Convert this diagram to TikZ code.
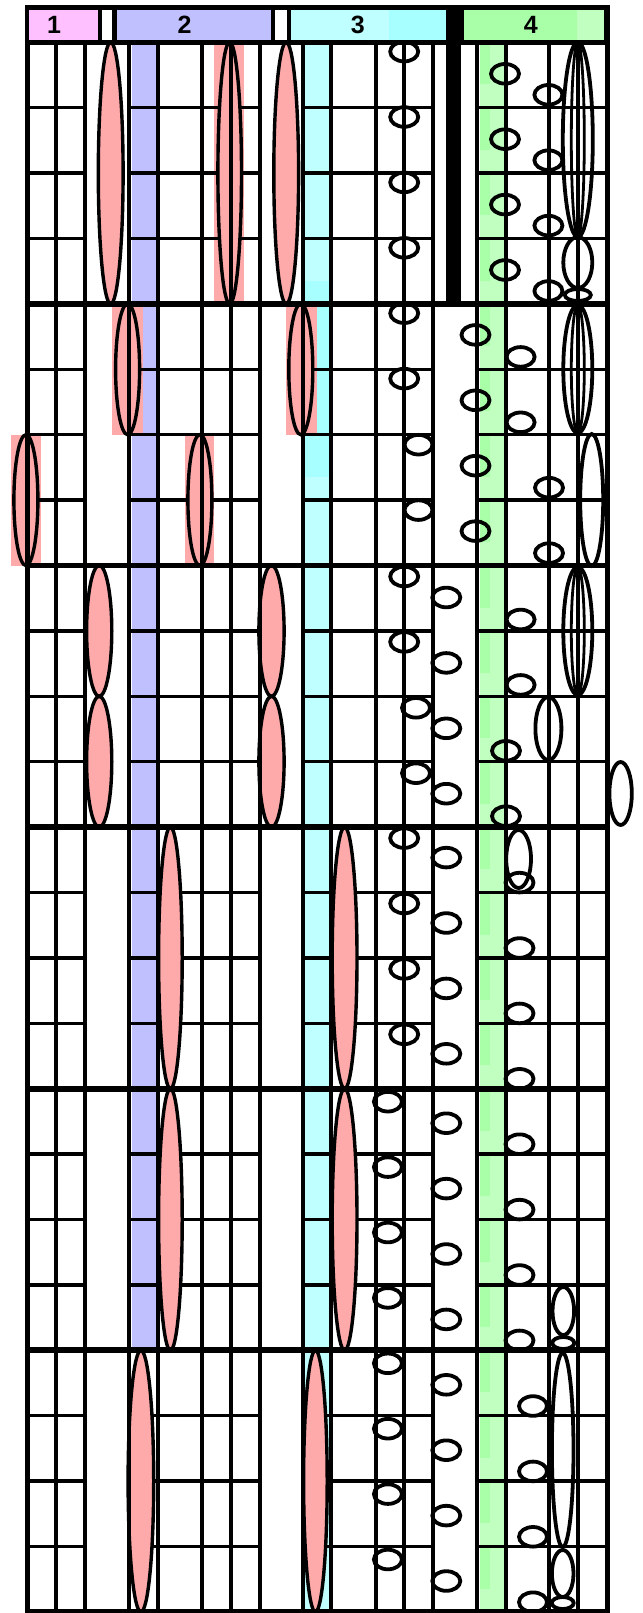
\documentclass[tikz,border=0pt]{standalone}
\usepackage{fontspec}
\setmainfont{Liberation Sans}
\definecolor{hdrone}{HTML}{FFC0FF}
\definecolor{lav}{HTML}{C0C0FF}
\definecolor{cyl}{HTML}{C0FFFF}
\definecolor{cyd}{HTML}{A8FFFF}
\definecolor{grl}{HTML}{C0FFC0}
\definecolor{grd}{HTML}{A8FFA8}
\definecolor{pk}{HTML}{FFAAAA}
\newcommand\PE[4]{\draw[pinkell] (#1,{(#2+#3)/2}) ellipse [x radius=#4, y radius={(#3-#2)/2}];}
\newcommand\WE[4]{\draw[ring] (#1,{(#2+#3)/2}) ellipse [x radius=#4, y radius={(#3-#2)/2}];}
\newcommand\IE[4]{\draw[inring] (#1,{(#2+#3)/2}) ellipse [x radius=#4, y radius={(#3-#2)/2}];}
\newcommand\RR[3]{\draw[ring] (#1,{42.3+(#2-1)*65.4+#3}) ellipse [x radius=14, y radius=9.8];}
\begin{document}
\begin{tikzpicture}[x=1pt,y=-1pt,
  gridv/.style={line width=3.8pt},
  gridh/.style={line width=3.4pt},
  sect/.style={line width=5.8pt},
  bord/.style={line width=4.6pt},
  pinkell/.style={fill=pk,draw=black,line width=3.4pt},
  ring/.style={draw=black,line width=3.8pt},
  inring/.style={draw=black,line width=2.8pt},
  lbl/.style={font=\fontsize{25}{28}\selectfont\bfseries,inner sep=0pt}]
\useasboundingbox (0,0) rectangle (642,1613);
% bands
\fill[lav] (131.5,42.3) rectangle (155.6,1350.3);
\fill[cyl] (305.4,42.3) rectangle (329.1,1611.9);
\fill[cyd] (305.4,280.5) rectangle (329.1,476.7);
\fill[grl] (479.8,42.3) rectangle (503.5,1611.9);
\foreach \r in {1,...,24} {\fill[grd] (479.8,{42.3+(\r-1)*65.4}) rectangle (490,{42.3+(\r-1)*65.4+42});}
% pink rects
\fill[pk] (214.4,42.3) rectangle (244.2,303.9);
\fill[pk] (112.3,303.9) rectangle (142.9,434.7);
\fill[pk] (285.8,303.9) rectangle (316.5,434.7);
\fill[pk] (11,434.7) rectangle (40.8,565.5);
\fill[pk] (185,434.7) rectangle (214.4,565.5);
% black bar
\fill[black] (446.3,5) rectangle (461.4,303.9);
% thin horizontal lines
\foreach \r in {2,3,4,6,7,8,10,11,12,14,15,16,18,19,20,22,23,24} {
  \pgfmathsetmacro\yy{42.3+(\r-1)*65.4}
  \draw[gridh] (27.4,\yy) -- (85.3,\yy) (129,\yy) -- (259.7,\yy) (302.6,\yy) -- (432.8,\yy) (476.9,\yy) -- (607.2,\yy);
}
% pink ellipses
\PE{110.7}{42.3}{303.9}{12.4}
\PE{229.7}{42.3}{303.9}{11.8}
\PE{286.2}{42.3}{303.9}{12.4}
\PE{127.6}{303.9}{434.7}{12}
\PE{300.8}{303.9}{434.7}{12}
\PE{25.9}{434.7}{565.5}{12}
\PE{199.9}{434.7}{565.5}{12}
\PE{99.2}{565.5}{696.3}{12.6}
\PE{99.2}{696.3}{827.1}{12.6}
\PE{271.5}{565.5}{696.3}{12.6}
\PE{271.5}{696.3}{827.1}{12.6}
\PE{170.4}{827.1}{1088.7}{11.8}
\PE{344.6}{827.1}{1088.7}{12.4}
\PE{170.4}{1088.7}{1350.3}{11.8}
\PE{344.6}{1088.7}{1350.3}{12.4}
\PE{140.9}{1350.3}{1611.9}{12.8}
\PE{315.4}{1350.3}{1611.9}{11.8}
% vertical lines
\foreach \x in {56.3,85.3,129,157.6,201.7,230.7,259.7,302.6,331.2,375.7,404.2,432.8,476.9,506.3,549.2,577.8} {\draw[gridv] (\x,42.3) -- (\x,1611.9);}
\draw[bord] (27.4,5) -- (27.4,1614);
\draw[bord] (607.2,5) -- (607.2,1614);
% section lines
\foreach \r in {1,5,9,13,17,21,25} {\draw[sect] (25.1,{42.3+(\r-1)*65.4}) -- (609.5,{42.3+(\r-1)*65.4});}
% rings group 3
\foreach \r in {1,...,6} {\RR{404.2}{\r}{9.3}}
\foreach \r in {7,8} {\RR{418.5}{\r}{10}}
\foreach \r in {9,10,13,14,15,16} {\RR{404.2}{\r}{11}}
\foreach \r in {11,12} {\RR{416}{\r}{11.5}}
\foreach \r in {9,...,12} {\RR{446.3}{\r}{32}}
\foreach \r in {13,...,16} {\RR{446.3}{\r}{30.5}}
\foreach \r in {17,...,24} {\RR{387.9}{\r}{13}}
\foreach \r in {17,...,24} {\RR{446.3}{\r}{34.5}}
% rings group 4
\foreach \r in {1,...,4} {\RR{505}{\r}{31.5}\RR{548.4}{\r}{52.5}}
\foreach \r in {5,...,8} {\RR{475.5}{\r}{31}}
\foreach \r in {5,6} {\RR{520.6}{\r}{53}}
\foreach \r in {7,8} {\RR{549}{\r}{53}}
\foreach \r in {9,10} {\RR{520.6}{\r}{54}}
\foreach \r in {11,12} {\RR{506}{\r}{54.5}}
\foreach \r in {13,...,20} {\RR{519.5}{\r}{55.5}}
\foreach \r in {21,...,24} {\RR{533}{\r}{55.7}}
% tall open ellipses
\WE{577.8}{42.3}{237}{15}
\IE{577.8}{42.3}{237}{6.5}
\WE{577.8}{237}{288}{14.5}
\draw[ring] (577.8,295) ellipse [x radius=13, y radius=6];
\WE{577.8}{305}{433}{14.5}
\IE{577.8}{305}{433}{6.5}
\WE{591.7}{434}{566}{11.5}
\WE{577.8}{567}{695}{14.5}
\IE{577.8}{567}{695}{6.5}
\WE{548.4}{697}{760}{13}
\WE{620.6}{762}{825}{11.2}
\WE{518.6}{830}{888}{12.4}
\WE{563.3}{1287}{1335}{10.8}
\draw[ring] (563.3,1343) ellipse [x radius=11, y radius=6];
\WE{562.7}{1353}{1547}{10.8}
\WE{562.7}{1550}{1597}{10.8}
\draw[ring] (562.7,1603) ellipse [x radius=11, y radius=6];
% header
\fill[black] (25.1,5) rectangle (609.5,44.8);
\fill[hdrone] (29.4,10) rectangle (98,40);
\fill[white] (102,10) rectangle (112.3,40);
\fill[lav] (117.2,10) rectangle (270.7,40);
\fill[white] (274.5,10) rectangle (286.5,40);
\fill[cyl] (290.7,10) rectangle (388.7,40);
\fill[cyd] (388.7,10) rectangle (445.9,40);
\fill[grd] (464.3,10) rectangle (577,40);
\fill[grl] (577,10) rectangle (604.3,40);
\node[lbl] (h1) at (54,25) {1};
\node[lbl] (h2) at (184.6,25) {2};
\node[lbl] (h3) at (357.7,25) {3};
\node[lbl] (h4) at (530.8,25) {4};
\end{tikzpicture}
\end{document}
